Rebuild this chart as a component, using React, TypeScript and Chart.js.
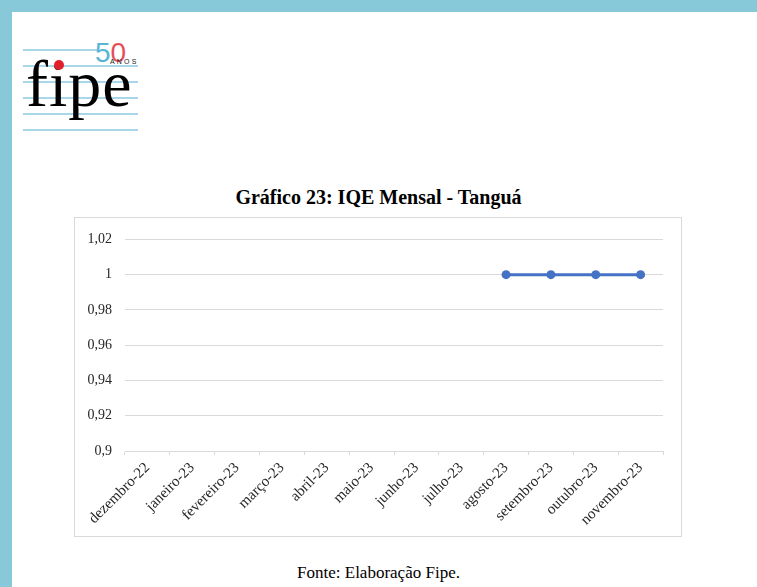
import React, { useEffect, useRef } from "react";
import { Chart, registerables } from "chart.js";

Chart.register(...registerables);

const categories = [
  "dezembro-22",
  "janeiro-23",
  "fevereiro-23",
  "março-23",
  "abril-23",
  "maio-23",
  "junho-23",
  "julho-23",
  "agosto-23",
  "setembro-23",
  "outubro-23",
  "novembro-23",
];

const iqeValues: (number | null)[] = [null, null, null, null, null, null, null, null, 1, 1, 1, 1];

const yTicks = [0.9, 0.92, 0.94, 0.96, 0.98, 1, 1.02];

const titleText = "Gráfico 23: IQE Mensal - Tanguá";
const sourceText = "Fonte: Elaboração Fipe.";

const SERIF = '"Liberation Serif", "Times New Roman", serif';

function formatTick(v: number): string {
  return String(Number(v.toFixed(2))).replace(".", ",");
}

function LineChart() {
  const ref = useRef<HTMLCanvasElement | null>(null);
  useEffect(() => {
    if (!ref.current) return;
    const chart = new Chart(ref.current, {
      type: "line",
      data: {
        labels: categories,
        datasets: [
          {
            data: iqeValues,
            borderColor: "#4472C4",
            backgroundColor: "#4472C4",
            borderWidth: 3,
            pointRadius: 4.5,
            pointBackgroundColor: "#4472C4",
            pointBorderColor: "#4472C4",
            pointBorderWidth: 0,
            tension: 0,
            spanGaps: false,
          },
        ],
      },
      options: {
        animation: false,
        responsive: false,
        maintainAspectRatio: false,
        layout: { padding: { top: 17, right: 18, left: 0, bottom: 0 } },
        plugins: {
          legend: { display: false },
          title: { display: false },
          tooltip: { enabled: false },
        },
        scales: {
          x: {
            offset: true,
            grid: {
              display: true,
              offset: true,
              drawOnChartArea: false,
              drawTicks: true,
              tickLength: 4,
              color: "#d9d9d9",
            },
            border: { display: true, color: "#d9d9d9" },
            ticks: {
              autoSkip: false,
              maxRotation: 45,
              minRotation: 45,
              padding: 4,
              color: "#262626",
              font: { family: SERIF, size: 15 },
            },
            afterFit: (s: any) => {
              s.height = 85;
            },
          },
          y: {
            min: 0.9,
            max: 1.02,
            grid: { color: "#d9d9d9", drawTicks: false, lineWidth: 1 },
            border: { display: false },
            ticks: {
              padding: 13,
              color: "#262626",
              font: { family: SERIF, size: 14 },
              callback: (v: any) => formatTick(Number(v)),
            },
            afterBuildTicks: (s: any) => {
              s.ticks = yTicks.map((v) => ({ value: v }));
            },
            afterFit: (s: any) => {
              s.width = 50;
            },
          },
        },
      },
    });
    return () => chart.destroy();
  }, []);
  return <canvas ref={ref} width={606} height={318} style={{ display: "block", width: 606, height: 318 }} />;
}

function Logo() {
  const lineColor = "#a9d7ea";
  const lines = [66, 82, 98, 114, 130];
  return (
    <div style={{ position: "absolute", left: 0, top: 0, width: 160, height: 150 }}>
      <div style={{ position: "absolute", left: 23, top: 49, width: 74, height: 2, background: lineColor }} />
      {lines.map((y) => (
        <div key={y} style={{ position: "absolute", left: 23, top: y - 1, width: 115, height: 2, background: lineColor }} />
      ))}
      <div
        style={{
          position: "absolute",
          left: 26,
          top: 51,
          fontFamily: SERIF,
          fontSize: 66,
          lineHeight: "66px",
          color: "#000",
          letterSpacing: 1,
          fontVariantLigatures: "none",
          whiteSpace: "nowrap",
        }}
      >
        <span>f</span>
        <span style={{ position: "relative" }}>
          i
          <span
            style={{
              position: "absolute",
              left: "50%",
              marginLeft: -5,
              top: 13,
              width: 10,
              height: 10,
              borderRadius: "50%",
              background: "#e2202c",
            }}
          />
        </span>
        <span>pe</span>
      </div>
      <div
        style={{
          position: "absolute",
          left: 95,
          top: 39,
          fontFamily: '"Liberation Sans", Arial, sans-serif',
          fontSize: 28,
          lineHeight: "28px",
          fontWeight: 300,
          whiteSpace: "nowrap",
        }}
      >
        <span style={{ color: "#5ab4d6" }}>5</span>
        <span style={{ color: "#e4505a" }}>0</span>
      </div>
      <div
        style={{
          position: "absolute",
          left: 110,
          top: 58,
          fontFamily: '"Liberation Sans", Arial, sans-serif',
          fontSize: 7,
          lineHeight: "7px",
          letterSpacing: 2.2,
          color: "#222",
          whiteSpace: "nowrap",
        }}
      >
        ANOS
      </div>
    </div>
  );
}

export default function App() {
  return (
    <div
      style={{
        position: "absolute",
        left: 0,
        top: 0,
        width: 757,
        height: 587,
        background: "#87c8d9",
        overflow: "hidden",
      }}
    >
      <div style={{ position: "absolute", left: 12, top: 12, right: 0, bottom: 0, background: "#ffffff" }} />
      <Logo />
      <div
        style={{
          position: "absolute",
          left: 0,
          top: 187,
          width: 757,
          textAlign: "center",
          fontFamily: SERIF,
          fontWeight: "bold",
          fontSize: 20,
          lineHeight: "20px",
          color: "#000",
        }}
      >
        {titleText}
      </div>
      <div
        style={{
          position: "absolute",
          left: 74,
          top: 217,
          width: 608,
          height: 320,
          border: "1px solid #d9d9d9",
          boxSizing: "border-box",
          background: "#fff",
        }}
      >
        <LineChart />
      </div>
      <div
        style={{
          position: "absolute",
          left: 0,
          top: 564,
          width: 757,
          textAlign: "center",
          fontFamily: SERIF,
          fontSize: 17,
          lineHeight: "17px",
          color: "#000",
        }}
      >
        {sourceText}
      </div>
    </div>
  );
}
